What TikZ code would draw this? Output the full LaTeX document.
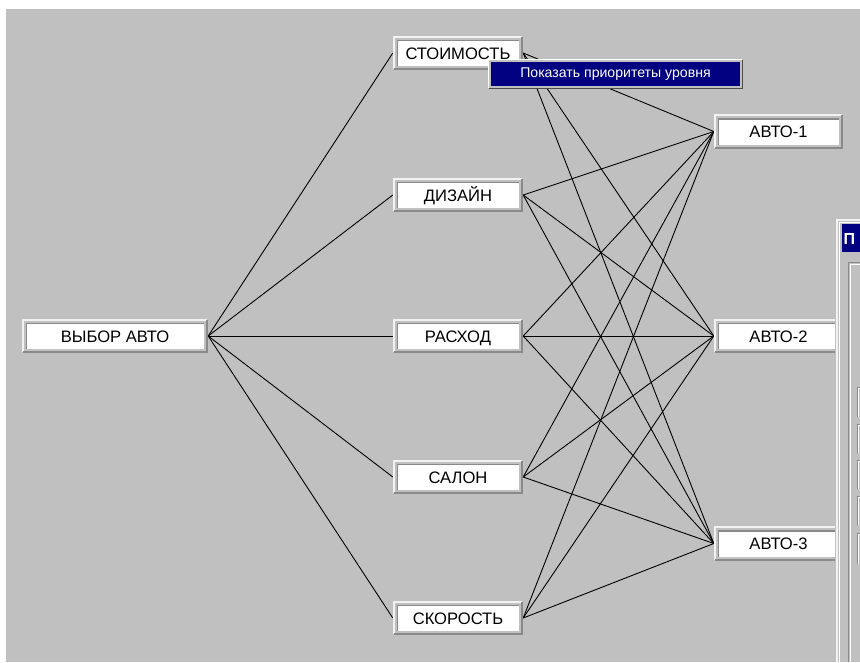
\documentclass[tikz,border=0pt]{standalone}
\usepackage{fontspec}
\setmainfont{Liberation Sans}
\pgfdeclarelayer{back}
\pgfdeclarelayer{wires}
\pgfdeclarelayer{frames}
\pgfsetlayers{back,wires,frames,main}
\definecolor{winbg}{HTML}{C0C0C0}
\definecolor{navy}{HTML}{000080}
\definecolor{edgegray}{HTML}{8A8A8A}
\definecolor{hilite}{HTML}{F2F2F2}
\tikzset{
  field/.style={minimum width=#1, minimum height=34pt, inner sep=0pt,
    font=\fontsize{16.6}{19}\selectfont, text height=12pt, text depth=0pt},
  popup/.style={minimum width=255pt, minimum height=30pt, inner sep=0pt,
    text=white, font=\fontsize{14.1}{16}\selectfont},
  link/.style={black, line width=0.9pt},
}
% raised frame with a white, slightly sunken field inside
\newcommand\fieldframe[1]{%
  \fill[white] ([xshift=4pt,yshift=-4pt]#1.north west) rectangle ([xshift=-4pt,yshift=4pt]#1.south east);
  \draw[edgegray, line width=1.2pt]
    ([xshift=4.6pt,yshift=4pt]#1.south west) --
    ([xshift=4.6pt,yshift=-4.6pt]#1.north west) --
    ([xshift=-4pt,yshift=-4.6pt]#1.north east);
  \draw[hilite, line width=2pt]
    ([xshift=1pt,yshift=1pt]#1.south west) --
    ([xshift=1pt,yshift=-1pt]#1.north west) --
    ([xshift=-1pt,yshift=-1pt]#1.north east);
  \draw[edgegray, line width=2pt]
    ([xshift=1pt,yshift=1pt]#1.south west) --
    ([xshift=-1pt,yshift=1pt]#1.south east) --
    ([xshift=-1pt,yshift=-1pt]#1.north east);
}
% raised frame of the context menu, navy inside
\newcommand\menuframe[1]{%
  \fill[winbg] (#1.north west) rectangle (#1.south east);
  \fill[navy] ([xshift=3pt,yshift=-3pt]#1.north west) rectangle ([xshift=-3pt,yshift=3pt]#1.south east);
  \draw[white, line width=1.5pt]
    ([xshift=0.75pt,yshift=0.75pt]#1.south west) --
    ([xshift=0.75pt,yshift=-0.75pt]#1.north west) --
    ([xshift=-0.75pt,yshift=-0.75pt]#1.north east);
  \draw[black!70, line width=1.5pt]
    ([xshift=0.75pt,yshift=0.75pt]#1.south west) --
    ([xshift=-0.75pt,yshift=0.75pt]#1.south east) --
    ([xshift=-0.75pt,yshift=-0.75pt]#1.north east);
}
\begin{document}
\begin{tikzpicture}[x=1pt,y=-1pt]
\useasboundingbox (0,0) rectangle (860,662);
\begin{pgfonlayer}{back}
  \fill[white] (0,0) rectangle (860,662);
  \fill[winbg] (6,9) rectangle (860,662);
\end{pgfonlayer}

% goal, criteria and alternatives
\node[field=186pt] (goal) at (115,336) {ВЫБОР АВТО};
\node[field=130pt] (c1) at (458,53)  {СТОИМОСТЬ};
\node[field=130pt] (c2) at (458,195) {ДИЗАЙН};
\node[field=130pt] (c3) at (458,336) {РАСХОД};
\node[field=130pt] (c4) at (458,477) {САЛОН};
\node[field=130pt] (c5) at (458,618) {СКОРОСТЬ};
\node[field=129pt] (a1) at (778.5,131.5) {АВТО-1};
\node[field=129pt] (a2) at (778.5,336)   {АВТО-2};
\node[field=129pt] (a3) at (778.5,543.5) {АВТО-3};

\begin{pgfonlayer}{frames}
  \foreach \n in {goal,c1,c2,c3,c4,c5,a1,a2,a3} {\fieldframe{\n}}
\end{pgfonlayer}

% hierarchy links
\begin{pgfonlayer}{wires}
  \foreach \c in {c1,c2,c3,c4,c5}
    \draw[link] (goal.east) -- (\c.west);
  \foreach \c in {c1,c2,c3,c4,c5}
    \foreach \a in {a1,a2,a3}
      \draw[link] (\c.east) -- (\a.west);
\end{pgfonlayer}

% context menu
\node[popup] (menu) at (615.5,74) {Показать приоритеты уровня};
\begin{pgfonlayer}{frames}
  \menuframe{menu}
\end{pgfonlayer}

% window at the right edge
\begin{scope}
  \clip (0,0) rectangle (860,662);
  \fill[winbg] (835,218) rectangle (862,662);
  \draw[hilite, line width=2pt] (836.5,662) -- (836.5,219.5) -- (862,219.5);
  \draw[white, line width=1pt] (839.5,662) -- (839.5,222.5) -- (862,222.5);
  \fill[navy] (842,224) rectangle (862,252);
  \node[anchor=west, text=white, inner sep=0pt, font=\bfseries\fontsize{16}{19}\selectfont] (title) at (843.5,239) {П};
  \draw[edgegray, line width=1pt] (848.5,662) -- (848.5,262.5) -- (862,262.5);
  \draw[white, line width=1pt] (850.5,662) -- (850.5,264.5) -- (862,264.5);
  \foreach \ya/\yb in {387/417, 424/453, 460/489, 496/525, 533/564} {
    \draw[edgegray, line width=1pt] (857.5,\yb) -- (857.5,\ya) -- (862,\ya);
    \draw[white, line width=1pt] (858.5,\yb) -- (858.5,\ya+1) -- (862,\ya+1);
  }
\end{scope}
\end{tikzpicture}
\end{document}
